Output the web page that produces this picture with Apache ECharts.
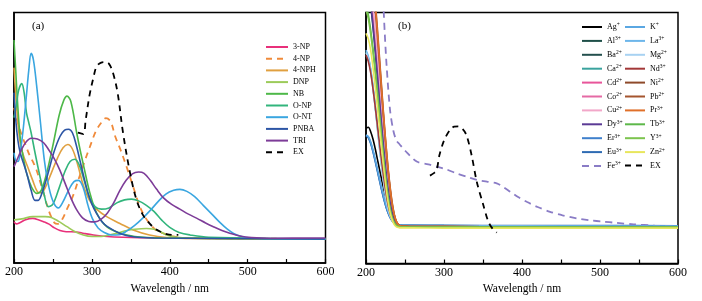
<!DOCTYPE html>
<html><head><meta charset="utf-8">
<script src="https://cdn.jsdelivr.net/npm/echarts@6/dist/echarts.min.js"></script>
<style>html,body{margin:0;padding:0;background:#fff}#c{width:702px;height:301px}</style>
</head><body><div id="c"></div>
<script>
// ---------- Panel (a): [wavelength nm, absorbance (a.u.)] ----------
const a3NP = [[200,16.5],[203,15.6],[208,16.2],[215,17.3],[224,17.8],[232,17.2],[238,16.5],[245,15.5],[252,14],[259,13],[267,12.5],[280,12.4],[290,11.8],[302,11.2],[320,10.6],[340,10.3],[380,10],[450,9.8],[600,9.6]];
const a4NP = [[200,62],[205,56],[210,51],[215,47],[220,43],[225,40],[229,37],[234,32],[238,28],[242,23.5],[247,19],[252,16],[256,15.6],[262,17.5],[268,21.5],[276,27],[283,33.5],[290,40],[297,46],[305,52.5],[312,56],[318,57.8],[324,56.5],[330,50.5],[337,45],[345,38],[353,30.5],[361,23],[368,18.5],[375,15.5],[383,13],[392,11.8],[405,10.6],[420,10],[600,9.6]];
const a4NPH = [[200,78],[202,68],[205,56],[208,48],[212,43],[218,38],[224,33],[230,28.5],[235,28],[240,30],[248,36],[256,42],[263,46],[269,47.3],[275,45.5],[282,39],[289,31],[297,25],[306,21.5],[319,18.5],[336,15.8],[353,13.2],[374,11.2],[396,10.2],[430,9.8],[600,9.6]];
const aDNP = [[200,17.2],[210,17.6],[224,18.5],[240,18.5],[248,18.2],[258,16.5],[268,14.5],[278,12.6],[289,11.2],[300,10.6],[312,10.6],[322,11.2],[332,11.9],[345,13],[355,13.5],[370,13.8],[380,13.5],[388,12.5],[395,11.3],[405,10.5],[420,10],[460,9.8],[600,9.6]];
const aNB = [[200,89],[202,78],[205,62],[208,50],[212,42],[217,35],[223,30],[229,27.8],[235,29],[242,36],[250,47],[258,59],[264,65],[268,66.6],[273,64.5],[280.5,52],[285,45],[290,38],[297,28.5],[306,20],[319,14.5],[336,12],[355,10.6],[390,10],[600,9.6]];
const aONP = [[200,58],[203,63],[206,69],[210,71.6],[213,68],[216,60],[219,56],[222,52],[227,44],[233,35],[239,27],[244,22.5],[250,23.5],[258,30],[266,37],[272,40.5],[278,41.4],[284,39],[290,33],[297,26],[304,22.5],[312,21.5],[322,22],[332,24],[342,25.2],[351,25.5],[360,24.8],[370,23],[380,20.5],[390,17],[400,14.2],[412,12.2],[426,11.2],[450,10.3],[600,9.6]];
const aONT = [[200,44],[202,41],[205,40.5],[208,44],[212,54],[216,67],[219,77],[222,83.7],[225,81],[229,71],[234,56],[239,41],[245,30],[251,24],[257,22],[263,24.5],[270,29],[277,32.5],[283,33],[289,30],[295,23],[301,17.5],[308,14],[316,12.2],[325,11.2],[335,11.3],[345,12.8],[355,15],[365,17.8],[375,21],[385,24.5],[395,27.5],[405,29],[413,29.4],[422,28.6],[432,26.5],[443,23],[455,19.2],[465,16],[474,13.5],[482,11.8],[492,10.6],[505,10],[530,9.7],[600,9.6]];
const aPNBA = [[200,68],[202,58],[205,49],[208,44],[212,40],[217,35],[222,29],[227,25],[231,25],[236,28],[243,35],[251,44],[259,50.5],[265,53],[270,53.4],[275,52],[280,47],[285,40.5],[290,34],[295,28],[300,23.5],[306,19.8],[313,16.5],[320,14.5],[336,11.8],[353,10.5],[380,10],[600,9.6]];
const aTRI = [[200,38.5],[205,42],[210,45.5],[216,48.5],[222,49.8],[230,49.5],[238,48],[245,45],[252,41.5],[259,37],[266,31.5],[273,26],[280,21.5],[288,18],[296,16.6],[304,16.4],[312,17.5],[320,20],[328,24],[336,29],[344,33],[352,35.6],[360,36.3],[367,35.8],[375,33],[383,29.5],[392,26],[402,23.5],[413,21.5],[424,19.5],[435,17.8],[446,16],[456,14.5],[467,13],[478,11.8],[490,10.8],[505,10.2],[530,9.9],[600,10]];
const aEX = [[282,52],[289,51.5],[292,57],[297,67],[302,74],[306,78.4],[312,80],[317,80.2],[322,79.5],[327,76],[333,68],[340,52],[349,36],[357,25.5],[365,19.5],[372,16.5],[380,14],[388,12.5],[396,11.5],[405,11.2],[411,11.2]];

// ---------- Panel (b) ----------
const wlB = [200,203,206,209,212,215,218,221,224,227,230,233,236,239,242,245,250,260,300,400,500,600];
const bAg = [53.9,54.3,52.5,49.5,45.5,41,36.5,32,28,24.5,21.5,19,17.2,16,15.4,15.1,15,15,14.9,14.8,14.8,14.7];
const bAl = [115,110,103,94,84,73,62,51,41,32.5,25.5,20.5,17.3,15.6,14.9,14.7,14.7,14.6,14.6,14.6,14.6,14.6];
const bBa = [118,113,106,97,86.5,75.5,64,53,43,34,26.5,21,17.6,15.7,15,14.8,14.7,14.6,14.6,14.6,14.6,14.6];
const bCa = [84.4,82,77,70,62,53,44.5,36.5,29.5,24,20,17.5,16,15.2,14.9,14.8,14.8,14.7,14.7,14.6,14.6,14.6];
const bCd = [120,115,108,99,88.5,77,65.5,54.5,44,35,27.5,21.5,18,16,15.1,14.8,14.7,14.7,14.6,14.6,14.6,14.6];
const bCo = [122,117,110,101,90.5,79,67,56,45,36,28,22,18.2,16,15.1,14.8,14.7,14.7,14.6,14.6,14.6,14.6];
const bCu = [124,119,112,103,92.5,81,69,57.5,46.5,37,29,22.5,18.5,16.2,15.2,14.9,14.8,14.7,14.7,14.6,14.6,14.6];
const bDy = [116,111,104,95,85,74,63,52,42,33,26,21,17.5,15.7,15,14.8,14.8,14.7,14.7,14.7,14.7,14.7];
const bEr = [51,50.3,48,44.7,40.8,36.6,32.3,28.2,24.5,21.3,19,17.3,16.2,15.6,15.3,15.2,15.2,15.2,15.1,15,15,15];
const bEu = [50.8,50.1,47.8,44.4,40.4,36.2,32,28,24.3,21.2,18.9,17.2,16.1,15.5,15.3,15.2,15.2,15.2,15.2,15.1,15.1,15];
const bK  = [51.2,50.6,48.5,45.2,41.2,37,32.8,28.8,25,21.8,19.3,17.5,16.3,15.6,15.3,15.2,15.2,15.1,15.1,15,15,14.9];
const bLa = [85,82.5,77.5,70.5,62.5,53.5,45,37,30,24.5,20.3,17.7,16.1,15.3,15,14.9,14.9,14.8,14.8,14.7,14.7,14.7];
const bMg = [84,81.5,76.5,69.5,61.5,52.5,44,36,29,23.5,19.8,17.4,15.9,15.2,14.9,14.8,14.8,14.7,14.7,14.7,14.6,14.6];
const bNd = [83,80.5,76,69.5,62,54,46,38.5,31.5,25.5,21,18,16.2,15.3,14.9,14.8,14.8,14.7,14.7,14.6,14.6,14.6];
const bNi = [135,130,122,112,101,89,76.5,64,52,41,32,24.5,19.5,16.6,15.3,14.9,14.8,14.7,14.7,14.6,14.6,14.6];
const bPb = [138,133,125,115,104,92,79,66,53.5,42.5,33,25.5,20,16.8,15.4,14.9,14.8,14.7,14.7,14.6,14.6,14.6];
const bPr = [136,131,123.5,113.5,102.5,90.5,78,65,53,42,32.5,25,19.7,16.7,15.3,14.9,14.8,14.7,14.7,14.6,14.6,14.6];
const bTb = [103,99,93,85.5,77,67.5,57.5,47.5,38,30,23.5,19,16.5,15.2,14.7,14.6,14.6,14.5,14.5,14.5,14.5,14.5];
const bY  = [101,97.5,91.5,84,75.5,66,56,46,37,29,23,18.7,16.3,15.1,14.7,14.6,14.6,14.5,14.5,14.5,14.5,14.5];
const bZn = [91.7,89.5,85,78,70,61,52,43,34.5,27,21.5,17.8,15.6,14.6,14.3,14.2,14.2,14.2,14.1,14.1,14.1,14.1];
const bFe = [[200,220],[210,170],[218,130],[222,105],[224,92],[226.5,78.4],[230.8,61.2],[235,53],[239,49],[243,47.5],[250,45],[265,40.6],[280,39.5],[290.6,38.6],[303,37.5],[316,35.9],[330,34.5],[342,33.3],[355,32.6],[367.6,31.9],[376,30.5],[385,28.6],[395,26.5],[406,24.6],[420,22.5],[436,20.6],[452,19.2],[470,18],[487,17.2],[504,16.7],[520,16.2],[543,15.6],[570,15.1],[600,14.7]];
const bEX = [[282,35],[287,36],[290.6,37.2],[294,43],[300,49],[307.7,53.2],[313,54.5],[318.4,54.6],[324,53.5],[329,51],[335.5,43],[342,32.6],[350.4,23.3],[356.8,16.7],[362,14],[367.6,12.3]];

const xTicks = [200,300,400,500,600];
const FONT = 'Liberation Serif';

const chart = echarts.init(document.getElementById('c'), null, {renderer:'canvas'});

function xAx(gi){
  return {type:'value', gridIndex:gi, min:200, max:600, interval:50,
    axisLine:{show:true, lineStyle:{color:'#000', width:1.5}},
    axisTick:{show:true, inside:true, length:4, lineStyle:{color:'#000', width:1.2}},
    axisLabel:{show:true, margin:3, color:'#000', fontFamily:FONT, fontSize:12, showMinLabel:true, showMaxLabel:true, hideOverlap:false,
      formatter:v => xTicks.includes(v) ? String(v) : ''},
    splitLine:{show:false},
    name:'Wavelength / nm', nameLocation:'middle', nameGap:14,
    nameTextStyle:{color:'#000', fontFamily:FONT, fontSize:11.5}};
}
function yAx(gi){
  return {type:'value', gridIndex:gi, min:0, max:100,
    axisLine:{show:true, lineStyle:{color:'#000', width:1.5}},
    axisTick:{show:false}, axisLabel:{show:false}, splitLine:{show:false}};
}

function lineA(name, data, color, dashed){
  return {name, type:'line', xAxisIndex:0, yAxisIndex:0, data, smooth:0.35, symbol:'none', showSymbol:false, clip:true,
    lineStyle:{color, width: dashed?1.8:1.6, type: dashed?[6,5]:'solid'}, itemStyle:{color}};
}
function lineB(name, vals, color){
  return {name, type:'line', xAxisIndex:1, yAxisIndex:1, data: wlB.map((w,i)=>[w, vals[i]]), smooth:0.3, symbol:'none', showSymbol:false, clip:true,
    lineStyle:{color, width:1.6}, itemStyle:{color}};
}

const seriesA = [
  lineA('3-NP', a3NP, '#E8307A'),
  lineA('4-NP', a4NP, '#F08A3A', true),
  lineA('4-NPH', a4NPH, '#E0A040'),
  lineA('DNP', aDNP, '#9CCB5A'),
  lineA('NB', aNB, '#4DB848'),
  lineA('O-NP', aONP, '#32B57C'),
  lineA('O-NT', aONT, '#3AA6E0'),
  lineA('PNBA', aPNBA, '#2C55A5'),
  lineA('TRI', aTRI, '#7D3C98'),
  lineA('EX', aEX, '#000000', true)
];
const seriesB = [
  lineB('Ag+', bAg, '#000000'),
  lineB('Al3+', bAl, '#1E4F48'),
  lineB('Ba2+', bBa, '#24504E'),
  lineB('Ca2+', bCa, '#3AA39E'),
  lineB('Cd2+', bCd, '#E8559A'),
  lineB('Co2+', bCo, '#E56AA5'),
  lineB('Cu2+', bCu, '#F2A7C9'),
  lineB('Dy3+', bDy, '#5B3A95'),
  lineB('Er3+', bEr, '#3F80CC'),
  lineB('Eu3+', bEu, '#2E6BB3'),
  {name:'Fe3+', type:'line', xAxisIndex:1, yAxisIndex:1, data:bFe, smooth:0.3, symbol:'none', showSymbol:false, clip:true,
    lineStyle:{color:'#8A7CC6', width:1.8, type:[7,5]}, itemStyle:{color:'#8A7CC6'}},
  lineB('K+', bK, '#5AA7E2'),
  lineB('La3+', bLa, '#6DB6EA'),
  lineB('Mg2+', bMg, '#A8D2F2'),
  lineB('Nd3+', bNd, '#A33838'),
  lineB('Ni2+', bNi, '#8E4A2A'),
  lineB('Pb2+', bPb, '#A5552E'),
  lineB('Pr3+', bPr, '#E0702A'),
  lineB('Tb3+', bTb, '#5DB84A'),
  lineB('Y3+', bY, '#7CC44E'),
  lineB('Zn2+', bZn, '#E8E65C'),
  {name:'EX ', type:'line', xAxisIndex:1, yAxisIndex:1, data:bEX, smooth:0.3, symbol:'none', showSymbol:false, clip:true,
    lineStyle:{color:'#000', width:1.8, type:[6,5]}, itemStyle:{color:'#000'}}
];

const supFmt = n => { const m = n.trim().match(/^([A-Za-z]+)(\d?\+)$/); return m ? m[1] + '{s|' + m[2] + '}' : n.trim(); };
const legTxt = {color:'#000', fontFamily:FONT, fontSize:8, lineHeight:9,
  rich:{s:{fontSize:5.5, fontFamily:FONT, color:'#000', padding:[0,0,4,0]}}};
const legItem = {opacity:0, borderWidth:0};

const option = {
  animation:false,
  backgroundColor:'#fff',
  grid:[
    {left:14, top:12.5, right:376.5, bottom:38, show:true, borderColor:'#000', borderWidth:1.5, containLabel:false},
    {left:366, top:12.5, right:24, bottom:37.5, show:true, borderColor:'#000', borderWidth:1.5, containLabel:false}
  ],
  xAxis:[xAx(0), xAx(1)],
  yAxis:[yAx(0), yAx(1)],
  graphic:[
    {type:'text', left:32, top:21, style:{text:'(a)', font:'11px "Liberation Serif"', fill:'#000'}},
    {type:'text', left:398, top:21, style:{text:'(b)', font:'11px "Liberation Serif"', fill:'#000'}}
  ],
  legend:[
    {orient:'vertical', left:265, top:43, itemWidth:22, itemHeight:8, itemGap:3.7, padding:0, itemStyle:legItem,
      data:['3-NP','4-NP','4-NPH','DNP','NB','O-NP','O-NT','PNBA','TRI','EX'],
      textStyle:{color:'#000', fontFamily:FONT, fontSize:8, lineHeight:8}},
    {orient:'vertical', left:581, top:22, itemWidth:20, itemHeight:8, itemGap:4.4, padding:0, itemStyle:legItem,
      data:['Ag+','Al3+','Ba2+','Ca2+','Cd2+','Co2+','Cu2+','Dy3+','Er3+','Eu3+','Fe3+'],
      formatter:supFmt, textStyle:legTxt},
    {orient:'vertical', left:624, top:22, itemWidth:20, itemHeight:8, itemGap:4.4, padding:0, itemStyle:legItem,
      data:['K+','La3+','Mg2+','Nd3+','Ni2+','Pb2+','Pr3+','Tb3+','Y3+','Zn2+','EX '],
      formatter:supFmt, textStyle:legTxt}
  ],
  series: seriesA.concat(seriesB)
};
chart.setOption(option);
</script></body></html>
